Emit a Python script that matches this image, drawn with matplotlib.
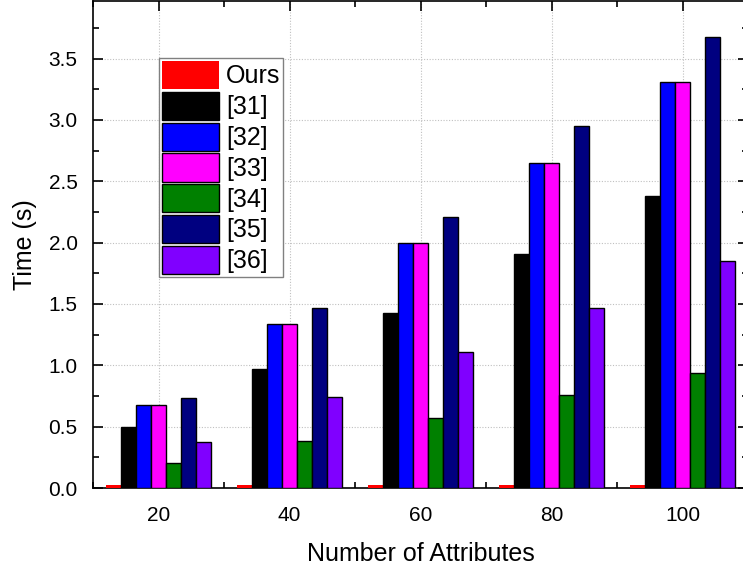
import matplotlib
matplotlib.use("Agg")
import matplotlib.pyplot as plt
import numpy as np
from matplotlib.ticker import MultipleLocator

plt.rcParams['font.family'] = ['Liberation Sans', 'DejaVu Sans']

attributes = [20, 40, 60, 80, 100]
series_names = ["Ours", "[31]", "[32]", "[33]", "[34]", "[35]", "[36]"]
ours = [0.025, 0.025, 0.025, 0.025, 0.025]
ref31 = [0.50, 0.97, 1.43, 1.91, 2.38]
ref32 = [0.68, 1.34, 2.00, 2.65, 3.31]
ref33 = [0.68, 1.34, 2.00, 2.65, 3.31]
ref34 = [0.20, 0.38, 0.57, 0.76, 0.94]
ref35 = [0.73, 1.47, 2.21, 2.95, 3.68]
ref36 = [0.375, 0.74, 1.11, 1.47, 1.85]
colors = ["#ff0000", "#000000", "#0000ff", "#ff00ff", "#008000", "#000080", "#8000ff"]

series = [ours, ref31, ref32, ref33, ref34, ref35, ref36]

fig = plt.figure(figsize=(7.43, 5.71), dpi=100)
ax = fig.add_axes([93/743, 83/571, (748-93)/743, (570-83)/571])

n = len(series)
width = 20 * 0.8 / n
x = np.array(attributes, dtype=float)
for i, (vals, c, name) in enumerate(zip(series, colors, series_names)):
    offs = (i - (n - 1) / 2) * width
    if i == 0:
        ax.bar(x + offs, vals, width=width, color=c, edgecolor=c, linewidth=0.0,
               label=name, zorder=3)
    else:
        ax.bar(x + offs, vals, width=width, color=c, edgecolor="black", linewidth=1.0,
               label=name, zorder=3)

ax.set_xlim(10, 110)
ax.set_ylim(0, 3.97)
ax.set_xticks(attributes)
ax.xaxis.set_minor_locator(MultipleLocator(10))
ax.yaxis.set_major_locator(MultipleLocator(0.5))
ax.yaxis.set_minor_locator(MultipleLocator(0.25))
ax.yaxis.set_major_formatter(matplotlib.ticker.FormatStrFormatter('%.1f'))
ax.tick_params(which='both', direction='in', top=True, right=True, width=1.2)
ax.tick_params(which='major', length=7, labelsize=15)
ax.tick_params(axis='x', which='major', pad=13)
ax.tick_params(axis='y', which='major', pad=11)
ax.tick_params(which='minor', length=4)
ax.grid(True, which='major', linestyle=(0, (1, 1.5)), color='#c0c0c0', linewidth=0.8, zorder=0)
for s in ax.spines.values():
    s.set_linewidth(1.2)

ax.set_xlabel("Number of Attributes", fontsize=18, labelpad=12)
ax.set_ylabel("Time (s)", fontsize=18, labelpad=8)

leg = ax.legend(loc='upper left', bbox_to_anchor=(159/743, 1 - 58/571),
                bbox_transform=fig.transFigure, fontsize=18, frameon=True,
                fancybox=False, edgecolor='#808080', handlelength=2.28,
                handleheight=1.35, labelspacing=0.11, handletextpad=0.28,
                borderpad=0.12, borderaxespad=0, framealpha=1)
leg.get_frame().set_linewidth(1.0)
leg.set_zorder(5)

fig.savefig("out.png", dpi=100)
